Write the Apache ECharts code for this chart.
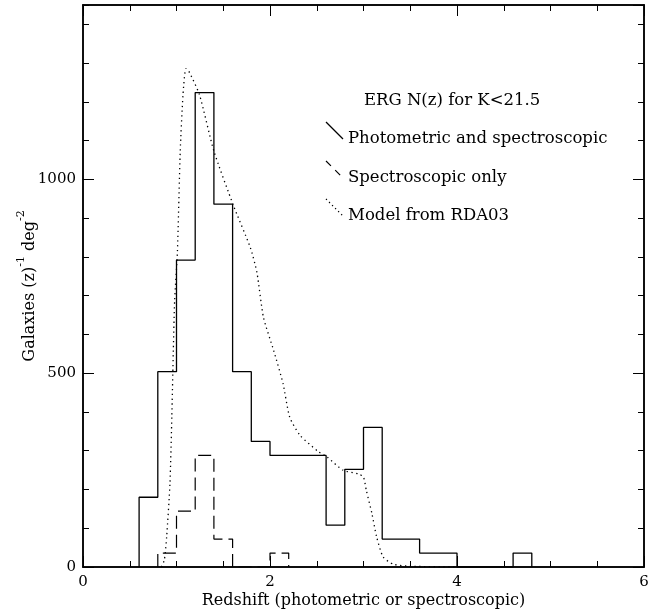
<!DOCTYPE html>
<html>
<head>
<meta charset="utf-8">
<script src="https://cdn.jsdelivr.net/npm/echarts@6/dist/echarts.min.js"></script>
<style>html,body{margin:0;padding:0;background:#fff}#c{width:660px;height:614px}</style>
</head>
<body>
<div id="c"></div>
<script>
// ---- data ----
// Photometric + spectroscopic histogram: left bin edges and values (bin width 0.2)
const allEdges = [0.6, 0.8, 1.0, 1.2, 1.4, 1.6, 1.8, 2.0, 2.2, 2.4, 2.6, 2.8, 3.0, 3.2, 3.4, 3.6, 3.8, 4.0, 4.2, 4.4, 4.6];
const allValues = [180, 504, 792, 1224, 936, 504, 324, 288, 288, 288, 108, 252, 360, 72, 72, 36, 36, 0, 0, 0, 36];
const allEnd = 4.8;
// Spectroscopic only
const specEdges = [0.8, 1.0, 1.2, 1.4, 1.6, 1.8, 2.0];
const specValues = [36, 144, 288, 72, 0, 0, 36];
const specEnd = 2.2;
// Model from RDA03
const modelZ = [0.84, 0.87, 0.895, 0.93, 0.95, 0.966, 0.98, 1.01, 1.04, 1.07, 1.10, 1.13, 1.245, 1.40, 1.61, 1.79, 1.86, 1.93, 2.04, 2.14, 2.21, 2.32, 2.52, 2.61, 2.78, 2.95, 3.0, 3.03, 3.09, 3.14, 3.21, 3.32, 3.5, 4.0];
const modelN = [0, 18, 78, 215, 387, 558, 687, 815, 1073, 1220, 1286, 1280, 1219, 1073, 932, 824, 760, 644, 558, 473, 387, 340, 297, 284, 250, 240, 232, 198, 138, 78, 26, 7, 2, 0];
const xTicks = [0, 2, 4, 6];
const yTicks = [0, 500, 1000];

function stepData(edges, vals, end) {
  const d = [[edges[0], 0]];
  for (let i = 0; i < edges.length; i++) d.push([edges[i], vals[i]]);
  d.push([end, 0]);
  return d;
}

const FONT = 'DejaVu Serif';
const chart = echarts.init(document.getElementById('c'), null, {renderer: 'canvas'});
const grid = {left: 83, right: 16, top: 5, bottom: 47, containLabel: false, outerBoundsMode: 'none'};
const lineC = '#000';

function xAx(pos, interval, len, labels) {
  return {
    type: 'value', min: 0, max: 6, interval: interval, position: pos, gridIndex: 0,
    axisLine: {show: true, onZero: false, lineStyle: {color: lineC, width: 1.5}},
    axisTick: {show: true, inside: true, length: len, lineStyle: {color: lineC, width: 1}},
    axisLabel: {show: labels, color: '#000', fontFamily: FONT, fontSize: 15, margin: 8,
      formatter: v => xTicks.indexOf(v) >= 0 ? String(v) : ''},
    splitLine: {show: false}
  };
}
function yAx(pos, interval, len, labels) {
  return {
    type: 'value', min: 0, max: 1450, interval: interval, position: pos, gridIndex: 0,
    axisLine: {show: true, onZero: false, lineStyle: {color: lineC, width: 1.5}},
    axisTick: {show: true, inside: true, length: len, lineStyle: {color: lineC, width: 1}},
    axisLabel: {show: labels, color: '#000', fontFamily: FONT, fontSize: 15, margin: 7,
      showMaxLabel: false,
      formatter: v => yTicks.indexOf(v) >= 0 ? String(v) : ''},
    splitLine: {show: false}
  };
}

const xMain = xAx('bottom', 2, 11, true);
xMain.name = 'Redshift (photometric or spectroscopic)';
xMain.nameLocation = 'middle';
xMain.nameGap = 26;
xMain.nameMoveOverlap = false;
xMain.nameTextStyle = {fontFamily: FONT, fontSize: 16, color: '#000'};

const yMain = yAx('left', 500, 11, true);
yMain.name = '{a|Galaxies (z)}{s|-1}{a| deg}{s|-2}';
yMain.nameLocation = 'middle';
yMain.nameGap = 45;
yMain.nameRotate = 90;
yMain.nameMoveOverlap = false;
yMain.nameTextStyle = {color: '#000', rich: {
  a: {fontFamily: FONT, fontSize: 16, color: '#000', lineHeight: 22, verticalAlign: 'bottom'},
  s: {fontFamily: FONT, fontSize: 11, color: '#000', lineHeight: 22, verticalAlign: 'top'}
}};

const LF = '16.5px "DejaVu Serif"';
const option = {
  animation: false,
  backgroundColor: '#fff',
  grid: grid,
  xAxis: [xMain, xAx('bottom', 0.5, 6, false), xAx('top', 2, 11, false), xAx('top', 0.5, 6, false)],
  yAxis: [yMain, yAx('left', 100, 6, false), yAx('right', 500, 11, false), yAx('right', 100, 6, false)],
  series: [
    {type: 'line', name: 'Photometric and spectroscopic', data: stepData(allEdges, allValues, allEnd), step: 'end',
      symbol: 'none', lineStyle: {color: '#000', width: 1.3}, xAxisIndex: 0, yAxisIndex: 0, z: 3},
    {type: 'line', name: 'Spectroscopic only', data: stepData(specEdges, specValues, specEnd), step: 'end',
      symbol: 'none', lineStyle: {color: '#000', width: 1.2, type: [13, 6]}, xAxisIndex: 0, yAxisIndex: 0, z: 3},
    {type: 'line', name: 'Model from RDA03', data: modelZ.map((z, i) => [z, modelN[i]]), smooth: 0.2,
      symbol: 'none', lineStyle: {color: '#000', width: 1.3, type: [1.3, 3.5]}, xAxisIndex: 0, yAxisIndex: 0, z: 2}
  ],
  graphic: [
    {type: 'text', left: 364, top: 92, style: {text: 'ERG N(z) for K<21.5', font: LF, fill: '#000'}},
    {type: 'line', shape: {x1: 326, y1: 122, x2: 343, y2: 139}, style: {stroke: '#000', lineWidth: 1.2}},
    {type: 'text', left: 348, top: 130, style: {text: 'Photometric and spectroscopic', font: LF, fill: '#000'}},
    {type: 'line', shape: {x1: 326, y1: 161, x2: 343, y2: 178}, style: {stroke: '#000', lineWidth: 1.2, lineDash: [7, 6]}},
    {type: 'text', left: 348, top: 169, style: {text: 'Spectroscopic only', font: LF, fill: '#000'}},
    {type: 'line', shape: {x1: 326, y1: 199, x2: 343, y2: 216}, style: {stroke: '#000', lineWidth: 1.2, lineDash: [1.3, 3]}},
    {type: 'text', left: 348, top: 207, style: {text: 'Model from RDA03', font: LF, fill: '#000'}}
  ]
};
chart.setOption(option);
</script>
</body>
</html>
